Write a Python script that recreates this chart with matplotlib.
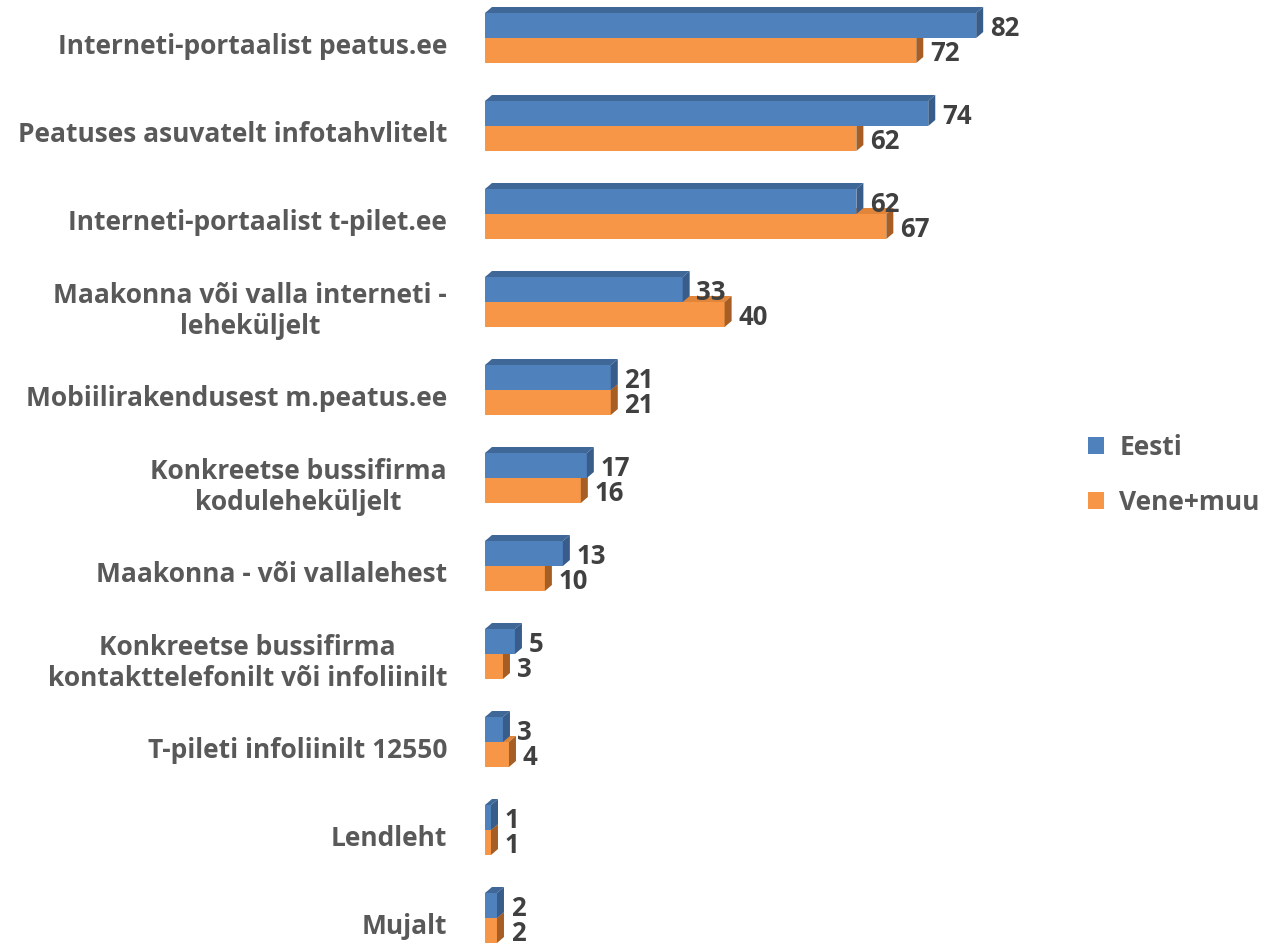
import numpy as np
import matplotlib.pyplot as plt
from matplotlib.patches import Polygon, Patch

# Andmed joonise pealt
kategooriad = [
    "Interneti-portaalist peatus.ee",
    "Peatuses asuvatelt infotahvlitelt",
    "Interneti-portaalist t-pilet.ee",
    "Maakonna või valla interneti -\nleheküljelt",
    "Mobiilirakendusest m.peatus.ee",
    "Konkreetse bussifirma\nkoduleheküljelt",
    "Maakonna - või vallalehest",
    "Konkreetse bussifirma\nkontakttelefonilt või infoliinilt",
    "T-pileti infoliinilt 12550",
    "Lendleht",
    "Mujalt",
]
eesti = [82, 74, 62, 33, 21, 17, 13, 5, 3, 1, 2]
vene_muu = [72, 62, 67, 40, 21, 16, 10, 3, 4, 1, 2]
seeriad = ["Eesti", "Vene+muu"]

plt.rcParams['font.family'] = ['Open Sans', 'DejaVu Sans']

W, H = 1273, 947
fig = plt.figure(figsize=(W / 100, H / 100), dpi=100)

x0_px, x1_px = 485, 1060
skaala = 5.99  # px ühiku kohta
ax = fig.add_axes([x0_px / W, 0, (x1_px - x0_px) / W, 1])
ax.set_xlim(0, (x1_px - x0_px) / skaala)
samm = 88.0
ax.set_ylim((H - 38) / samm, -38 / samm)
ax.axis("off")

h = 25 / samm
dx = 7 / skaala
dy = 6 / samm

varvid = {
    "Eesti": ("#4F81BD", "#3F6899", "#385D8A"),
    "Vene+muu": ("#F79646", "#E0853A", "#A65E24"),
}

y = np.arange(len(kategooriad))


def kast(x, top, bot, front, topc, side):
    ax.add_patch(Polygon([(0, top), (x, top), (x, bot), (0, bot)],
                         closed=True, fc=front, ec="none", zorder=2))
    ax.add_patch(Polygon([(0, top), (x, top), (x + dx, top - dy), (dx, top - dy)],
                         closed=True, fc=topc, ec="none", zorder=2))
    ax.add_patch(Polygon([(x, top), (x + dx, top - dy), (x + dx, bot - dy), (x, bot)],
                         closed=True, fc=side, ec="none", zorder=2))


for i in range(len(kategooriad)):
    # oranž enne, sinine ette
    kast(vene_muu[i], y[i], y[i] + h, *varvid["Vene+muu"])
    kast(eesti[i], y[i] - h, y[i], *varvid["Eesti"])
    ax.text(eesti[i] + dx + 1.1, y[i] - h / 2 + 0.03, str(eesti[i]),
            fontsize=18.5, fontweight="bold", color="#404040",
            ha="left", va="center", zorder=3)
    ax.text(vene_muu[i] + dx + 1.1, y[i] + h / 2 + 0.03, str(vene_muu[i]),
            fontsize=18.5, fontweight="bold", color="#404040",
            ha="left", va="center", zorder=3)
    ax.text(-38 / skaala, y[i] + 0.1, kategooriad[i],
            fontsize=19, fontweight="bold", color="#595959",
            ha="right", va="center", multialignment="center",
            linespacing=1.2, clip_on=False)

kasitsid = [Patch(fc=varvid[s][0], ec="none") for s in seeriad]
leg = fig.legend(kasitsid, seeriad, loc="center left",
                 bbox_to_anchor=(1064 / W, 1 - 475 / H), frameon=False,
                 fontsize=19, labelspacing=1.05, handlelength=0.6,
                 handleheight=0.6, handletextpad=0.6)
for t in leg.get_texts():
    t.set_color("#595959")
    t.set_fontweight("bold")

fig.savefig("out.png", dpi=100)
